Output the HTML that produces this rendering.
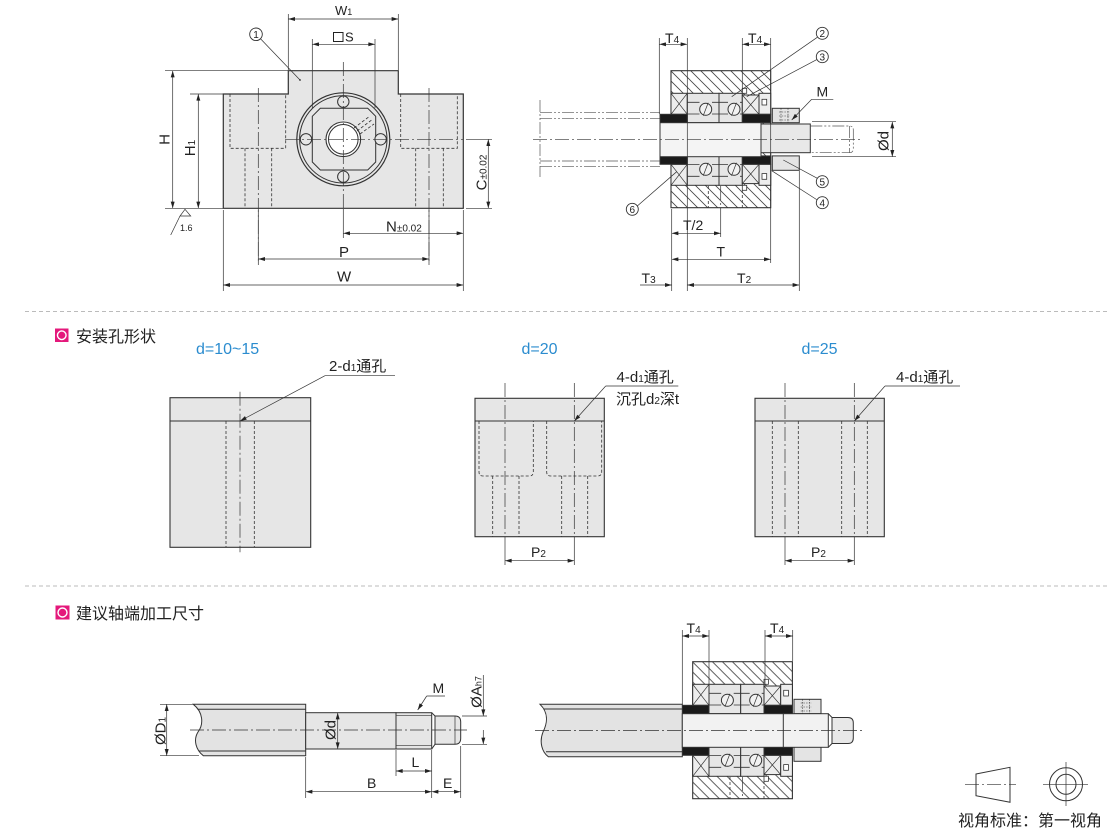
<!DOCTYPE html>
<html><head><meta charset="utf-8"><style>
html,body{margin:0;padding:0;background:#fff;}
svg{display:block;}
text{font-family:"Liberation Sans","Noto Sans CJK SC",sans-serif;fill:#222;}
.l{stroke:#333;stroke-width:1;fill:none;}
.t{stroke:#333;stroke-width:0.7;fill:none;}
.d{stroke:#333;stroke-width:0.8;fill:none;stroke-dasharray:3 2;}
.c{stroke:#333;stroke-width:0.7;fill:none;stroke-dasharray:14 3 2 3;}
.p{stroke:#555;stroke-width:0.7;fill:none;stroke-dasharray:12 2 2 2 2 2;}
.b{font-size:16px;fill:#2b8ccf;}
</style></head><body>
<svg width="1110" height="830" viewBox="0 0 1110 830" xmlns="http://www.w3.org/2000/svg">
<defs>
<pattern id="h" patternUnits="userSpaceOnUse" width="10" height="10">
<path d="M-1,-1 L11,11 M-1,9 L1,11 M9,-1 L11,1" stroke="#444" stroke-width="0.8"/>
</pattern>
<marker id="a" viewBox="0 0 10 6" refX="10" refY="3" markerWidth="9" markerHeight="4" markerUnits="userSpaceOnUse" orient="auto-start-reverse"><path d="M0,0 L10,3 L0,6 z" fill="#222"/></marker>
<g id="th" stroke="#333" stroke-width="1">
 <rect x="671" y="93.3" width="16.3" height="21" fill="#ededed"/>
 <path d="M671,93.3 L687.3,114.3 M687.3,93.3 L671,114.3" fill="none" stroke-width="0.7"/>
 <rect x="687.3" y="93.3" width="31.7" height="29.4" fill="#e6e6e6"/>
 <rect x="719" y="93.3" width="23.3" height="29.4" fill="#e6e6e6"/>
 <path d="M687.3,102.3 H699.5 M712,102.3 H719 M719,102.3 H728 M740,102.3 H742.3 M687.3,114 H699.5 M712,114 H719 M719,114 H728 M740,114 H742.3" fill="none" stroke-width="0.8"/>
 <circle cx="705.7" cy="109.3" r="6" fill="#f2f2f2"/>
 <circle cx="734" cy="109.3" r="6" fill="#f2f2f2"/>
 <rect x="742.3" y="95" width="16.7" height="19.3" fill="#ededed"/>
 <path d="M742.3,95 L759,114.3 M759,95 L742.3,114.3" fill="none" stroke-width="0.7"/>
 <rect x="759" y="93.3" width="11.7" height="21" fill="#ededed"/>
 <rect x="762" y="99.3" width="4.7" height="5.7" fill="#fff" stroke-width="0.8"/>
 <rect x="742.3" y="88.3" width="4.4" height="5" fill="#fff" stroke-width="0.8"/>
 <rect x="660" y="114.3" width="27.3" height="8.4" fill="#1a1a1a"/>
 <rect x="742.3" y="114.3" width="28.4" height="8.4" fill="#1a1a1a"/>
 <rect x="772.3" y="108.3" width="27" height="14.4" fill="#e4e4e4"/>
</g>
<g id="hs">
 <rect x="671" y="70.7" width="99.7" height="137" fill="#fff"/>
 <rect x="671" y="70.7" width="99.7" height="137" fill="url(#h)" stroke="#333" stroke-width="1.1"/>
 <use href="#th"/>
 <use href="#th" transform="translate(0,278.6) scale(1,-1)"/>
 <path d="M703.2,115.8 L708.2,102.8 M731.5,115.8 L736.5,102.8 M703.2,175.8 L708.2,162.8 M731.5,175.8 L736.5,162.8" stroke="#333" stroke-width="0.7" fill="none"/>
 <path d="M781,108.3 V122.7 M788,108.3 V122.7 M779,112 H790 M779,116 H790 M779,120 H790" fill="none" stroke="#333" stroke-width="0.6" stroke-dasharray="1.5 1.2"/>
 <path d="M708.3,186 V207.7 M742.3,190 V207.7" class="d"/>
 <path d="M720.7,186 V207.7" class="c"/>
</g>
</defs>

<!-- ============ FRONT VIEW ============ -->
<path d="M223.3,94 H288.3 V70.7 H398.3 V94 H463.3 V208.3 H223.3 Z" fill="#e6e6e6" stroke="#333" stroke-width="1.2"/>
<path d="M230,94 V148.3 H285.7 V94 M245,148.3 V208.3 M271.7,148.3 V208.3 M400.7,94 V148.3 H457.3 V94 M415.7,148.3 V208.3 M443.3,148.3 V208.3" class="d"/>
<circle cx="343.3" cy="139.3" r="46.5" fill="#e6e6e6" stroke="#333" stroke-width="1.2"/>
<circle cx="343.3" cy="139.3" r="43.7" class="l"/>
<path d="M320.3,108.3 H367.7 L375.7,116.3 V162 L367.7,170 H320.3 L312.3,162 V116.3 Z" class="l"/>
<circle cx="343.3" cy="139.3" r="17.3" fill="#fff" stroke="#333" stroke-width="1.1"/>
<circle cx="343.3" cy="139.3" r="14.8" class="l"/>
<circle cx="343.3" cy="101.7" r="5.7" fill="#e6e6e6" stroke="#333"/>
<circle cx="343.3" cy="176.7" r="5.7" fill="#e6e6e6" stroke="#333"/>
<circle cx="306" cy="139.3" r="5.7" fill="#e6e6e6" stroke="#333"/>
<circle cx="380.6" cy="139.3" r="5.7" fill="#e6e6e6" stroke="#333"/>
<path d="M354,128 L370,116 M357,131 L373,119 M360,134 L374,124" class="d" stroke-width="0.6"/>
<path d="M258.3,88 V265 M429,88 V265 M343.3,62 V208 M285,139.3 H463" class="c"/>
<!-- dims front -->
<path d="M288.3,14 V70 M398.3,14 V70 M312.3,39 V108 M375,39 V108 M165,70.7 H288 M190,94 H223 M165,208.3 H223 M466,139.3 H492 M466,208.3 H492 M343.3,209 V238 M463.3,210 V291 M223.3,210 V291 M258.3,210 V264 M429,210 V264" class="t"/>
<line x1="288.3" y1="19" x2="398.3" y2="19" class="t" marker-start="url(#a)" marker-end="url(#a)"/>
<line x1="312.3" y1="44.3" x2="375" y2="44.3" class="t" marker-start="url(#a)" marker-end="url(#a)"/>
<line x1="172.7" y1="70.7" x2="172.7" y2="208.3" class="t" marker-start="url(#a)" marker-end="url(#a)"/>
<line x1="198.3" y1="94" x2="198.3" y2="208.3" class="t" marker-start="url(#a)" marker-end="url(#a)"/>
<line x1="488.3" y1="139.3" x2="488.3" y2="208.3" class="t" marker-start="url(#a)" marker-end="url(#a)"/>
<line x1="343.3" y1="233.3" x2="463.3" y2="233.3" class="t" marker-start="url(#a)" marker-end="url(#a)"/>
<line x1="258.3" y1="259" x2="429" y2="259" class="t" marker-start="url(#a)" marker-end="url(#a)"/>
<line x1="223.3" y1="285" x2="463.3" y2="285" class="t" marker-start="url(#a)" marker-end="url(#a)"/>
<text x="335" y="15" font-size="13">W<tspan font-size="9">1</tspan></text>
<rect x="333.5" y="32.5" width="9.5" height="9" fill="none" stroke="#222" stroke-width="1"/>
<text x="345" y="41.7" font-size="13">S</text>
<text transform="translate(169.5,139.5) rotate(-90)" text-anchor="middle" font-size="15">H</text>
<text transform="translate(195,148) rotate(-90)" text-anchor="middle" font-size="15">H<tspan font-size="10">1</tspan></text>
<text transform="translate(486.5,172.5) rotate(-90)" text-anchor="middle" font-size="15">C<tspan font-size="10">±0.02</tspan></text>
<text x="386" y="231.7" font-size="15">N<tspan font-size="10">±0.02</tspan></text>
<text x="339" y="257" font-size="15">P</text>
<text x="337" y="281.7" font-size="15">W</text>
<path d="M185,209.3 L180,216 H190.7 Z M180,216 L170.7,235" class="t"/>
<text x="180" y="231" font-size="9">1.6</text>
<circle cx="256" cy="34.3" r="6.3" fill="#fff" stroke="#333" stroke-width="0.9"/>
<text x="256" y="38" font-size="10" text-anchor="middle">1</text>
<line x1="260.5" y1="38.8" x2="300" y2="80" class="t"/>
<circle cx="300" cy="80" r="0.9" fill="#333"/>

<!-- ============ SIDE SECTION VIEW ============ -->
<path d="M540,112.7 H660 M540,118.3 H660 M540,161 H660 M540,166.7 H660 M540,100 V177" class="p"/>
<use href="#hs"/>
<rect x="660" y="122.7" width="101" height="34" fill="#f4f4f4" stroke="#333"/>
<rect x="761" y="124" width="49.3" height="28.7" fill="#e8e8e8" stroke="#333"/>
<path d="M810.3,126 H849.5 Q853.3,126 853.3,130 V148.7 Q853.3,152.7 849.5,152.7 H810.3 M849.5,126 V152.7" class="p"/>
<path d="M533,139.3 H862" class="c"/>
<!-- dims side -->
<path d="M659.3,38 V114 M687.3,38 V291 M742.3,38 V93 M770.7,38 V263 M671.7,209 V291 M720.7,208 V237 M799.3,171 V291 M812,121.7 H896 M812,156.7 H896" class="t"/>
<line x1="659.3" y1="44.3" x2="687.3" y2="44.3" class="t" marker-start="url(#a)" marker-end="url(#a)"/>
<line x1="742.3" y1="44.3" x2="770.7" y2="44.3" class="t" marker-start="url(#a)" marker-end="url(#a)"/>
<line x1="892.3" y1="121.7" x2="892.3" y2="156.7" class="t" marker-start="url(#a)" marker-end="url(#a)"/>
<line x1="671.7" y1="233.3" x2="720.7" y2="233.3" class="t" marker-start="url(#a)" marker-end="url(#a)"/>
<line x1="671.7" y1="259.3" x2="770.7" y2="259.3" class="t" marker-start="url(#a)" marker-end="url(#a)"/>
<line x1="640" y1="285" x2="671.7" y2="285" class="t" marker-end="url(#a)"/>
<line x1="687.3" y1="285" x2="799.3" y2="285" class="t" marker-start="url(#a)" marker-end="url(#a)"/>
<text x="665" y="43" font-size="14">T<tspan font-size="10">4</tspan></text>
<text x="748" y="43" font-size="14">T<tspan font-size="10">4</tspan></text>
<text transform="translate(888.5,141) rotate(-90)" text-anchor="middle" font-size="15">Ød</text>
<text x="683" y="230" font-size="14">T/2</text>
<text x="716.5" y="256.5" font-size="14">T</text>
<text x="641.5" y="283" font-size="14">T<tspan font-size="10">3</tspan></text>
<text x="737" y="283" font-size="14">T<tspan font-size="10">2</tspan></text>
<text x="816.5" y="96.5" font-size="14">M</text>
<path d="M833.3,99.3 H811.7" class="t"/>
<line x1="811.7" y1="99.3" x2="791.7" y2="120" class="t" marker-end="url(#a)"/>
<g stroke="#333" stroke-width="0.9" fill="#fff">
<circle cx="822.3" cy="33.3" r="6"/><circle cx="822.3" cy="56.7" r="6"/>
<circle cx="822.3" cy="181.7" r="6"/><circle cx="822.3" cy="202.7" r="6"/>
<circle cx="632.3" cy="209.3" r="6"/>
</g>
<g font-size="10" text-anchor="middle">
<text x="822.3" y="37">2</text><text x="822.3" y="60.4">3</text>
<text x="822.3" y="185.4">5</text><text x="822.3" y="206.4">4</text>
<text x="632.3" y="213">6</text>
</g>
<path d="M817.3,37.3 L731.7,96.7 M817.3,59.3 L746.7,96.7 M817.3,178.3 L783.3,160 M817.3,200 L771.7,170.7 M637.3,206 L676.7,171.7" class="t"/>

<!-- separators -->
<path d="M25,311.5 H1110 M25,586 H1110" stroke="#bbb" stroke-width="1" stroke-dasharray="4 3"/>

<!-- ============ SECTION 2 ============ -->
<rect x="55" y="328.5" width="13.5" height="13.5" fill="#e4187b"/>
<circle cx="61.75" cy="335.25" r="4.3" fill="none" stroke="#fff" stroke-width="1.4"/>
<text x="76" y="342" font-size="16">安装孔形状</text>
<text x="196" y="354" class="b">d=10~15</text>
<text x="521.5" y="354" class="b">d=20</text>
<text x="801.5" y="354" class="b">d=25</text>

<rect x="170" y="397.7" width="140.7" height="149.6" fill="#e6e6e6" stroke="#333" stroke-width="1.1"/>
<line x1="170" y1="421" x2="310.7" y2="421" class="l"/>
<path d="M226,421 V547.3 M254.3,421 V547.3" class="d"/>
<path d="M240,391.7 V552.3" class="c"/>
<path d="M395,375.7 H325" class="t"/>
<line x1="325" y1="375.7" x2="240" y2="421" class="t" marker-end="url(#a)"/>
<text x="329" y="371" font-size="15">2-d<tspan font-size="10">1</tspan>通孔</text>

<rect x="475" y="398.3" width="129.3" height="138.4" fill="#e6e6e6" stroke="#333" stroke-width="1.1"/>
<line x1="475" y1="421" x2="604.3" y2="421" class="l"/>
<path d="M479,421 V472 Q479,476 483,476 H529.3 Q533.3,476 533.3,472 V421 M546.7,421 V472 Q546.7,476 550.7,476 H597.7 Q601.7,476 601.7,472 V421 M492.7,476 V536.7 M519,476 V536.7 M561.7,476 V536.7 M587.7,476 V536.7" class="d"/>
<path d="M505,383 V537 M574.3,383 V537" class="c"/>
<path d="M505,537 V565 M574.3,537 V565" class="t"/>
<line x1="505" y1="560.7" x2="574.3" y2="560.7" class="t" marker-start="url(#a)" marker-end="url(#a)"/>
<text x="531" y="557" font-size="14">P<tspan font-size="10">2</tspan></text>
<path d="M678.3,386 H605.7" class="t"/>
<line x1="605.7" y1="386" x2="574.3" y2="421" class="t" marker-end="url(#a)"/>
<text x="616.5" y="382" font-size="15">4-d<tspan font-size="10">1</tspan>通孔</text>
<text x="616" y="404" font-size="15">沉孔d<tspan font-size="10">2</tspan>深t</text>

<rect x="755" y="398.3" width="129.3" height="138.4" fill="#e6e6e6" stroke="#333" stroke-width="1.1"/>
<line x1="755" y1="421" x2="884.3" y2="421" class="l"/>
<path d="M772.3,421 V536.7 M798.3,421 V536.7 M841.7,421 V536.7 M867.3,421 V536.7" class="d"/>
<path d="M785,383 V537 M854.3,383 V537" class="c"/>
<path d="M785,537 V565 M854.3,537 V565" class="t"/>
<line x1="785" y1="560.7" x2="854.3" y2="560.7" class="t" marker-start="url(#a)" marker-end="url(#a)"/>
<text x="811" y="557" font-size="14">P<tspan font-size="10">2</tspan></text>
<path d="M960,386 H885" class="t"/>
<line x1="885" y1="386" x2="854.3" y2="421" class="t" marker-end="url(#a)"/>
<text x="896" y="382" font-size="15">4-d<tspan font-size="10">1</tspan>通孔</text>

<!-- ============ SECTION 3 ============ -->
<rect x="55.5" y="605.5" width="14" height="14" fill="#e4187b"/>
<circle cx="62.5" cy="612.5" r="4.5" fill="none" stroke="#fff" stroke-width="1.4"/>
<text x="76" y="619" font-size="16">建议轴端加工尺寸</text>

<path d="M193.3,704.3 H305.7 V755.7 H203.3 C196,750 193,740 198,732 C204,724 203,712 193.3,704.3 Z" fill="#e3e3e3" stroke="#333" stroke-width="1"/>
<path d="M197.5,709.3 H305.7 M199,751 H305.7" stroke="#333" stroke-width="1"/>
<rect x="305.7" y="712.7" width="90.3" height="36.3" fill="#e6e6e6" stroke="#333"/>
<rect x="396" y="712.7" width="35.7" height="36.3" fill="#e6e6e6" stroke="#333"/>
<path d="M396,715.7 H431.7 M396,745.7 H431.7" class="t"/>
<path d="M431.7,712.7 L435,716 V744.3 L431.7,749" class="l" fill="#e6e6e6"/>
<path d="M435,716 H455 Q460.7,716 460.7,722 V738.3 Q460.7,744.3 455,744.3 H435 Z" fill="#e6e6e6" stroke="#333"/>
<path d="M455,716 V744.3" class="t"/>
<path d="M190,730 H467" class="c"/>
<path d="M160,704.3 H193 M160,755.7 H199 M462,716 H487 M462,744.3 H487 M305.7,757 V798 M396,750 V776 M431.7,750 V798 M460.7,746 V798" class="t"/>
<line x1="166.7" y1="704.3" x2="166.7" y2="755.7" class="t" marker-start="url(#a)" marker-end="url(#a)"/>
<line x1="337.7" y1="712.7" x2="337.7" y2="749" class="t" marker-start="url(#a)" marker-end="url(#a)"/>
<line x1="483.3" y1="675" x2="483.3" y2="716" class="t" marker-end="url(#a)"/>
<line x1="483.3" y1="730" x2="483.3" y2="744.3" class="t" marker-end="url(#a)"/>
<line x1="396" y1="771" x2="431.7" y2="771" class="t" marker-start="url(#a)" marker-end="url(#a)"/>
<line x1="305.7" y1="791.7" x2="431.7" y2="791.7" class="t" marker-start="url(#a)" marker-end="url(#a)"/>
<line x1="431.7" y1="791.7" x2="460.7" y2="791.7" class="t" marker-start="url(#a)" marker-end="url(#a)"/>
<text transform="translate(165.5,731) rotate(-90)" text-anchor="middle" font-size="15">ØD<tspan font-size="10">1</tspan></text>
<text transform="translate(335.5,730) rotate(-90)" text-anchor="middle" font-size="15">Ød</text>
<text transform="translate(481.5,692) rotate(-90)" text-anchor="middle" font-size="15">ØA<tspan font-size="9">h7</tspan></text>
<text x="432.5" y="693" font-size="14">M</text>
<path d="M445,696 H426.7" class="t"/>
<line x1="426.7" y1="696" x2="417.7" y2="710" class="t" marker-end="url(#a)"/>
<text x="411.5" y="767" font-size="14">L</text>
<text x="367" y="788" font-size="14">B</text>
<text x="443" y="788" font-size="14">E</text>

<!-- bottom assembly -->
<use href="#hs" transform="translate(21.7,591)"/>
<path d="M540,704.3 H682.3 V756.7 H548.3 C542,752 539,742 543,732 C548,722 548,712 540,704.3 Z" fill="#e3e3e3" stroke="#333"/>
<path d="M544,709 H682.3 M546,751.7 H682.3" stroke="#333" stroke-width="1"/>
<rect x="682.3" y="713.7" width="146" height="33.6" fill="#f2f2f2" stroke="#333"/>
<path d="M783.3,713.7 V747.3" class="l"/>
<path d="M828.3,713.7 L832,717.5 V743.5 L828.3,747.3" class="l" fill="#e8e8e8"/>
<path d="M832,717.5 H848 Q853.3,717.5 853.3,723 V738 Q853.3,743.5 848,743.5 H832 Z" fill="#e8e8e8" stroke="#333"/>
<path d="M535,730.5 H862" class="c"/>
<path d="M682.3,630 V704 M709,630 V684 M765,630 V684 M792.7,630 V661" class="t"/>
<line x1="682.3" y1="636" x2="709" y2="636" class="t" marker-start="url(#a)" marker-end="url(#a)"/>
<line x1="765" y1="636" x2="792.7" y2="636" class="t" marker-start="url(#a)" marker-end="url(#a)"/>
<text x="686.5" y="633" font-size="14">T<tspan font-size="10">4</tspan></text>
<text x="770" y="633" font-size="14">T<tspan font-size="10">4</tspan></text>

<!-- projection symbol -->
<path d="M976,774 L1010,767.3 L1010,802.3 L976,795.7 Z" class="l"/>
<path d="M965,784.3 H1016" class="c" stroke-dasharray="10 2 2 2"/>
<circle cx="1066" cy="784.3" r="16.5" class="l"/>
<circle cx="1066" cy="784.3" r="10" class="l"/>
<path d="M1043,784.3 H1088 M1066,762 V806" class="t"/>
<text x="958" y="826" font-size="16">视角标准：第一视角</text>
</svg>
</body></html>
